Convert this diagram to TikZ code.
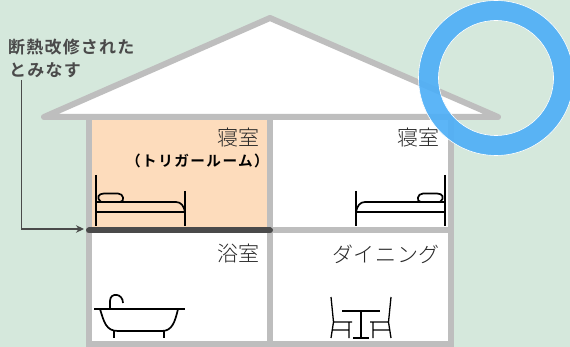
\documentclass[tikz,border=0pt]{standalone}
\usepackage{fontspec}
\newfontfamily\jpf{Noto Sans CJK JP Light}
\newfontfamily\jpk[LetterSpace=3]{Noto Sans CJK JP Light}
\newfontfamily\jpb[LetterSpace=7]{Noto Sans CJK JP Bold}
\newfontfamily\jpt[LetterSpace=10]{Noto Sans CJK JP Bold}
\usetikzlibrary{arrows.meta}
\definecolor{bgc}{HTML}{D5E8DC}
\definecolor{wallc}{HTML}{BEBEBE}
\definecolor{orangec}{HTML}{FDDCBC}
\definecolor{darkc}{HTML}{4A4A4A}
\definecolor{ringc}{HTML}{4FAFF7}
\definecolor{txtc}{HTML}{262626}
\tikzset{
 wall/.style={draw=wallc,line width=6pt,line cap=round,line join=round},
 icon/.style={draw=black,line width=1.7pt,line cap=butt,line join=round},
 thinicon/.style={draw=black,line width=1.3pt,line cap=butt,line join=miter},
 room/.style={inner sep=0pt,font=\jpf\fontsize{21}{21}\selectfont,text=txtc},
 caption/.style={inner sep=0pt,anchor=west,font=\jpb\fontsize{17}{17}\selectfont,text=darkc},
 conn/.style={draw=darkc,line width=1.1pt,-{Stealth[length=8pt,width=7.5pt]}}
}
\begin{document}
\begin{tikzpicture}[x=1pt,y=-1pt]
\useasboundingbox (0,0) rectangle (570,347);
\fill[bgc] (0,0) rectangle (570,347);
% house
\fill[white] (44,117) -- (270,18) -- (498,117) -- cycle;
\fill[white] (89,117) rectangle (451,344);
\fill[orangec] (89,117) rectangle (270,230);
\draw[wall] (44,117) -- (270,18) -- (498,117) -- cycle;
\draw[wall,line cap=butt,line join=miter] (89,117) -- (89,344) -- (451,344) -- (451,117);
\draw[wall,line cap=butt] (270,117) -- (270,344);
\draw[wall,line cap=butt] (270,230.5) -- (451,230.5);
\draw[draw=darkc,line width=6pt,line cap=round] (89,230.5) -- (270,230.5);
% labels
\node[room,anchor=east] (r1) at (259.5,138) {寝室};
\node[room,anchor=east] (r2) at (439.5,138) {寝室};
\node[room,anchor=east] (r3) at (259.5,254) {浴室};
\node[room,anchor=east,font=\jpk\fontsize{21}{21}\selectfont] (r4) at (440,254) {ダイニング};
\node[inner sep=0pt,anchor=east,font=\jpt\fontsize{14.6}{14.6}\selectfont,text=black] (r5) at (269,161) {（トリガールーム）};
\node[caption] (c1) at (8,47) {断熱改修された};
\node[caption] (c2) at (9,70) {とみなす};
% connector
\coordinate (a0) at (21.5,80);
\coordinate (a1) at (84,229);
\draw[conn] (a0) |- (a1);
% left bed
\draw[icon] (96,175) -- (96,226) (185,191) -- (185,226);
\draw[icon] (96,212) -- (185,212);
\draw[icon] (96,202) -- (176,202) .. controls (181,202) and (184,206) .. (185,212);
\draw[icon] (104,193.5) -- (118,193.5) .. controls (124,193.5) and (125,202) .. (120,202) (104,193.5) .. controls (98,193.5) and (96,198) .. (101,202);
% right bed
\begin{scope}[xshift=541pt,x=-1pt]
\draw[icon] (96,175) -- (96,226) (185,191) -- (185,226);
\draw[icon] (96,212) -- (185,212);
\draw[icon] (96,202) -- (176,202) .. controls (181,202) and (184,206) .. (185,212);
\draw[icon] (104,193.5) -- (118,193.5) .. controls (124,193.5) and (125,202) .. (120,202) (104,193.5) .. controls (98,193.5) and (96,198) .. (101,202);
\end{scope}
% bath
\draw[icon] (94,309) -- (185,309);
\draw[icon] (100,309) .. controls (104,322) and (106,331) .. (118,331) -- (162,331) .. controls (172,331) and (175,322) .. (178,309);
\draw[icon] (114,331) -- (114,338) (164,331) -- (164,338);
\draw[icon] (110,309) -- (110,301) .. controls (110,292) and (123,293) .. (123,303);
% dining
\draw[thinicon] (342,311) -- (380,311) (361,311) -- (361,338) (353,338) -- (369,338);
\draw[thinicon] (331,297) -- (333.5,322) -- (331,338) (333.5,322) -- (352,322) (332,330) -- (349,330) (349,322) -- (349,338);
\begin{scope}[xshift=722pt,x=-1pt]
\draw[thinicon] (331,297) -- (333.5,322) -- (331,338) (333.5,322) -- (352,322) (332,330) -- (349,330) (349,322) -- (349,338);
\end{scope}
% ring
\fill[ringc,fill opacity=0.92,even odd rule] (496,78) circle[radius=77.5] (496,78) circle[radius=57.5];
\draw[white,line width=0.6pt] (496,78) circle[radius=77.5] (496,78) circle[radius=57.5];
\end{tikzpicture}
\end{document}
